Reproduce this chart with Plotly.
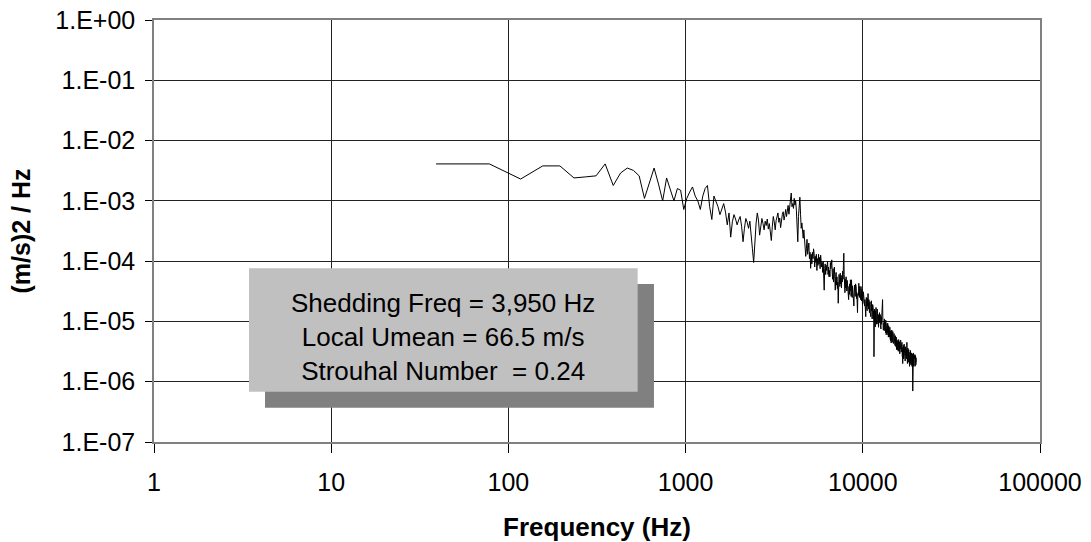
import plotly.graph_objects as go

# spectrum bins are 40000/1024 Hz apart, first bin at 39 Hz
BIN_HZ = 39.0625

psd = [
    4.1e-3, 4.1e-3, 2.3e-3, 3.8e-3, 3.8e-3, 2.4e-3, 2.5e-3, 2.6e-3, 4.1e-3, 1.8e-3,
    2.9e-3, 3.5e-3, 3.2e-3, 2.6e-3, 1.1e-3, 2.0e-3, 3.5e-3, 1.9e-3, 1.0e-3, 2.4e-3,
    1.6e-3, 1.0e-3, 1.6e-3, 1.5e-3, 7.2e-4, 1.1e-3, 1.4e-3, 1.7e-3, 1.2e-3, 1.0e-3,
    7.2e-4, 1.2e-3, 1.6e-3, 1.8e-3, 8.0e-4, 4.9e-4, 1.2e-3, 1.0e-3, 8.0e-4, 5.9e-4,
    7.5e-4, 9.0e-4, 6.5e-4, 4.0e-4, 6.3e-4, 2.5e-4, 4.5e-4, 5.9e-4, 5.0e-4, 4.0e-4,
    4.8e-4, 5.5e-4, 3.8e-4, 2.1e-4, 3.5e-4, 5.1e-4, 4.4e-4, 3.5e-4, 4.6e-4, 3.0e-4,
    1.6e-4, 9.5e-5, 2.8e-4, 4.3e-4, 6.3e-4, 4.8e-4, 2.7e-4, 3.9e-4, 5.1e-4, 4.2e-4,
    3.3e-4, 4.6e-4, 3.9e-4, 5.0e-4, 3.4e-4, 4.2e-4, 3.1e-4, 2.2e-4, 3.8e-4, 5.5e-4,
    4.5e-4, 3.3e-4, 4.7e-4, 5.6e-4, 6.3e-4, 4.4e-4, 5.2e-4, 3.6e-4, 5.4e-4, 6.0e-4,
    6.6e-4, 4.8e-4, 5.7e-4, 7.2e-4, 5.5e-4, 7.1e-4, 8.4e-4, 6.0e-4, 7.8e-4, 9.5e-4,
    1.35e-3, 8.0e-4, 9.0e-4, 7.5e-4, 1.1e-3, 8.5e-4, 1.0e-3, 7.0e-4, 4.5e-4, 2.1e-4,
    5.5e-4, 9.0e-4, 1.15e-3, 6.0e-4, 3.5e-4, 4.3e-4, 3.0e-4, 2.4e-4, 3.3e-4, 2.2e-4,
    1.9e-4, 1.2e-4, 1.6e-4, 2.3e-4, 1.3e-4, 1.7e-4, 2.0e-4, 1.1e-4, 1.4e-4, 7.6e-5,
    1.3e-4, 9.0e-5, 1.4e-4, 1.1e-4, 1.6e-4, 1.35e-4, 8.0e-5, 1.2e-4, 9.5e-5, 1.3e-4,
    7.0e-5, 1.1e-4, 8.5e-5, 1.3e-4, 9.0e-5, 1.15e-4, 7.5e-5, 1.26e-4, 1.0e-4, 8.0e-5,
    9.5e-5, 6.5e-5, 1.0e-4, 5.0e-5, 3.3e-5, 7.5e-5, 9.0e-5, 6.0e-5, 8.5e-5, 7.0e-5,
    9.0e-5, 1.0e-4, 6.0e-5, 8.0e-5, 5.5e-5, 7.0e-5, 5.5e-5, 9.5e-5, 7.5e-5, 8.5e-5,
    1.05e-4, 6.5e-5, 5.0e-5, 7.5e-5, 4.5e-5, 6.0e-5, 8.0e-5, 5.0e-5, 3.3e-5, 5.5e-5,
    6.5e-5, 4.0e-5, 5.5e-5, 3.5e-5, 4.5e-5, 2.0e-5, 4.0e-5, 6.0e-5, 5.0e-5, 3.8e-5,
    6.3e-5, 4.2e-5, 5.2e-5, 3.6e-5, 5.8e-5, 4.5e-5, 6.8e-5, 5.0e-5, 8.5e-5, 1.35e-4,
    6.0e-5, 4.0e-5, 3.0e-5, 5.0e-5, 3.6e-5, 5.5e-5, 4.2e-5, 3.2e-5, 4.8e-5, 3.5e-5,
    4.5e-5, 3.0e-5, 2.3e-5, 3.8e-5, 2.8e-5, 4.2e-5, 3.2e-5, 4.9e-5, 3.6e-5, 2.6e-5,
    4.9e-5, 3.4e-5, 2.5e-5, 3.9e-5, 2.7e-5, 3.5e-5, 2.2e-5, 1.8e-5, 3.0e-5, 4.0e-5,
    3.3e-5, 2.6e-5, 4.2e-5, 3.1e-5, 3.8e-5, 2.4e-5, 3.0e-5, 2.0e-5, 1.4e-5, 2.8e-5,
    3.6e-5, 2.7e-5, 4.3e-5, 3.2e-5, 2.5e-5, 3.8e-5, 2.9e-5, 3.5e-5, 2.3e-5, 3.8e-5,
    3.0e-5, 2.2e-5, 3.4e-5, 2.6e-5, 1.9e-5, 2.8e-5, 2.1e-5, 3.1e-5, 2.4e-5, 2.3e-5,
    2.6e-5, 1.8e-5, 2.3e-5, 1.6e-5, 1.3e-5, 1.2e-5, 2.0e-5, 2.5e-5, 1.7e-5, 2.2e-5,
    1.5e-5, 2.4e-5, 1.8e-5, 2.9e-5, 2.0e-5, 1.6e-5, 2.3e-5, 2.2e-5, 1.4e-5, 1.9e-5,
    2.1e-5, 1.4e-5, 1.8e-5, 1.2e-5, 1.7e-5, 2.2e-5, 1.5e-5, 1.9e-5, 1.1e-5, 1.6e-5,
    1.9e-5, 1.3e-5, 1.7e-5, 1.1e-5, 1.5e-5, 2.6e-6, 1.2e-5, 1.6e-5, 1.0e-5, 1.4e-5,
    8.1e-6, 1.5e-5, 1.1e-5, 1.7e-5, 1.2e-5, 9.0e-6, 1.4e-5, 1.0e-5, 1.6e-5, 1.1e-5,
    1.4e-5, 9.0e-6, 1.2e-5, 8.0e-6, 1.3e-5, 1.0e-5, 1.2e-5, 1.4e-5, 9.5e-6, 1.1e-5,
    1.3e-5, 8.5e-6, 1.1e-5, 7.5e-6, 1.2e-5, 9.0e-6, 1.4e-5, 1.0e-5, 1.5e-5, 1.9e-5,
    2.3e-5, 1.2e-5, 8.0e-6, 7.2e-6, 1.0e-5, 7.5e-6, 9.5e-6, 7.0e-6, 1.1e-5, 8.5e-6,
    1.0e-5, 7.0e-6, 9.0e-6, 6.5e-6, 1.05e-5, 8.0e-6, 6.0e-6, 9.5e-6, 7.5e-6, 8.5e-6,
    9.3e-6, 6.5e-6, 8.0e-6, 9.3e-6, 6.0e-6, 7.5e-6, 5.5e-6, 8.5e-6, 6.5e-6, 7.8e-6,
    5.5e-6, 7.5e-6, 6.0e-6, 8.0e-6, 5.2e-6, 6.8e-6, 4.8e-6, 7.0e-6, 5.8e-6, 4.4e-6,
    6.5e-6, 5.0e-6, 7.2e-6, 5.4e-6, 4.5e-6, 6.2e-6, 4.8e-6, 6.8e-6, 5.2e-6, 6.0e-6,
    4.3e-6, 5.8e-6, 4.6e-6, 6.3e-6, 5.0e-6, 6.3e-6, 4.2e-6, 5.5e-6, 4.0e-6, 5.2e-6,
    5.8e-6, 4.2e-6, 5.0e-6, 3.8e-6, 5.5e-6, 4.4e-6, 3.4e-6, 5.0e-6, 3.9e-6, 4.6e-6,
    3.5e-6, 3.4e-6, 4.8e-6, 3.8e-6, 4.5e-6, 3.2e-6, 4.2e-6, 5.0e-6, 3.6e-6, 4.4e-6,
    3.3e-6, 4.6e-6, 3.7e-6, 2.9e-6, 4.1e-6, 3.5e-6, 4.7e-6, 3.8e-6, 4.9e-6, 3.6e-6,
    4.3e-6, 3.1e-6, 3.9e-6, 2.8e-6, 3.6e-6, 4.5e-6, 3.3e-6, 2.6e-6, 3.4e-6, 2.0e-6,
    3.7e-6, 2.8e-6, 4.0e-6, 3.0e-6, 2.4e-6, 3.5e-6, 2.7e-6, 4.2e-6, 3.1e-6, 2.5e-6,
    3.6e-6, 2.6e-6, 3.3e-6, 2.2e-6, 3.8e-6, 2.9e-6, 3.4e-6, 3.8e-6, 2.7e-6, 3.2e-6,
    2.4e-6, 3.5e-6, 2.8e-6, 4.5e-6, 2.6e-6, 3.1e-6, 2.0e-6, 3.3e-6, 2.5e-6, 3.6e-6,
    2.7e-6, 2.1e-6, 3.2e-6, 2.4e-6, 3.4e-6, 2.3e-6, 3.0e-6, 2.2e-6, 2.9e-6, 1.8e-6,
    2.8e-6, 2.2e-6, 3.1e-6, 2.0e-6, 2.7e-6, 3.3e-6, 2.1e-6, 2.6e-6, 1.9e-6, 2.9e-6,
    2.3e-6, 3.0e-6, 2.0e-6, 2.6e-6, 1.8e-6, 2.8e-6, 2.2e-6, 2.9e-6, 1.5e-6, 7.0e-7,
    2.0e-6, 2.7e-6, 2.1e-6, 3.0e-6, 2.3e-6, 1.8e-6, 2.6e-6, 2.0e-6, 2.8e-6, 2.4e-6,
    1.9e-6, 2.6e-6, 2.1e-6, 2.8e-6, 1.8e-6, 2.4e-6, 2.0e-6, 2.7e-6, 2.2e-6, 1.9e-6,
    2.5e-6, 2.1e-6,
]
freq = [BIN_HZ * (i + 1) for i in range(len(psd))]

x_ticks = [1, 10, 100, 1000, 10000, 100000]
x_tick_labels = ["1", "10", "100", "1000", "10000", "100000"]
y_ticks = [1e0, 1e-1, 1e-2, 1e-3, 1e-4, 1e-5, 1e-6, 1e-7]
y_tick_labels = ["1.E+00", "1.E-01", "1.E-02", "1.E-03", "1.E-04", "1.E-05", "1.E-06", "1.E-07"]

note_lines = [
    "Shedding Freq = 3,950 Hz",
    "Local Umean = 66.5 m/s",
    "Strouhal Number\u00a0 = 0.24",
]

FONT = "Arial, Liberation Sans, sans-serif"

fig = go.Figure()
fig.add_trace(go.Scatter(x=freq, y=psd, mode="lines",
                         line=dict(color="black", width=1), showlegend=False))

axis_common = dict(
    type="log", showgrid=True, gridcolor="#222222", gridwidth=1,
    showline=True, linecolor="#808080", linewidth=1.5, mirror=True,
    ticks="outside", tickcolor="black", zeroline=False, automargin=False,
    ticklabeloverflow="allow",
    tickfont=dict(family=FONT, size=25, color="black"),
)

fig.update_xaxes(
    **axis_common, range=[0, 5], tickvals=x_ticks, ticktext=x_tick_labels,
    ticklen=9, ticklabelstandoff=8,
    title=dict(text="<b>Frequency (Hz)</b>", standoff=24,
               font=dict(family=FONT, size=26, color="black")),
)
fig.update_yaxes(
    **axis_common, range=[-7, 0], tickvals=y_ticks, ticktext=y_tick_labels,
    ticklen=7, ticklabelstandoff=5,
    title=dict(text="<b>(m/s)2 / Hz</b>", standoff=18,
               font=dict(family=FONT, size=25, color="black")),
)

# text box with drop shadow, placed in plot-area fractions
fig.add_shape(type="rect", xref="paper", yref="paper",
              x0=0.1253, x1=0.5643, y0=0.0813, y1=0.3744,
              fillcolor="#808080", line=dict(width=0), layer="above")
fig.add_shape(type="rect", xref="paper", yref="paper",
              x0=0.1072, x1=0.5459, y0=0.1192, y1=0.4116,
              fillcolor="#C0C0C0", line=dict(width=0), layer="above")
fig.add_annotation(xref="paper", yref="paper", x=0.3266, y=0.248,
                   xanchor="center", yanchor="middle",
                   text="<br>".join(note_lines), showarrow=False,
                   align="center", font=dict(family=FONT, size=26, color="black"))

fig.update_layout(
    width=1091, height=542,
    margin=dict(l=154, r=51, t=20, b=100),
    paper_bgcolor="white", plot_bgcolor="white",
    font=dict(family=FONT, color="black"),
)

# drop the default 8px page margin so the figure fills the window exactly
fig.write_html("out.html", config={"displayModeBar": False},
               post_script="document.body.style.margin = '0';")
